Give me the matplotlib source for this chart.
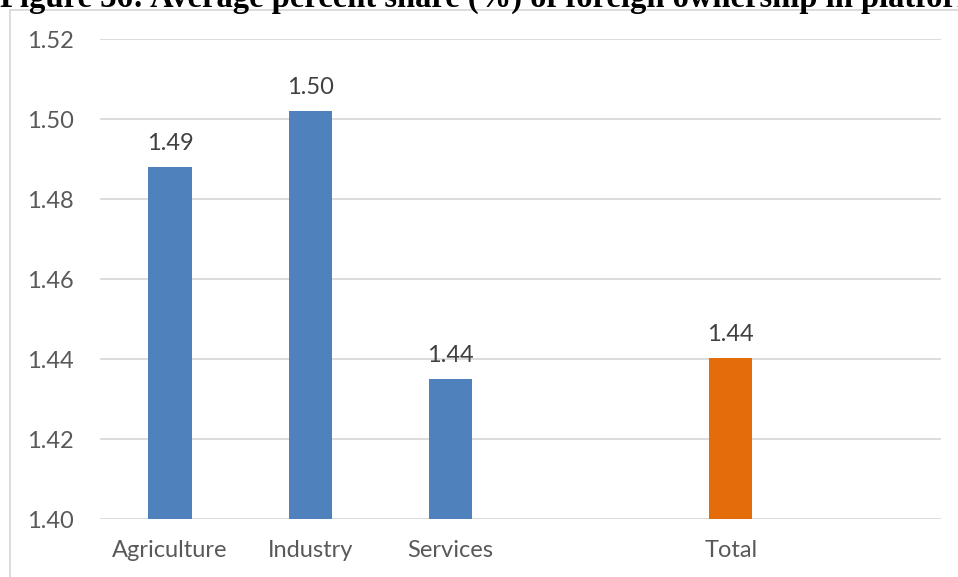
import matplotlib
matplotlib.use("Agg")
import matplotlib.pyplot as plt
from matplotlib.lines import Line2D

categories = ["Agriculture", "Industry", "Services", "", "Total", ""]
values = [1.488, 1.502, 1.435, None, 1.4403, None]
labels = ["1.49", "1.50", "1.44", "", "1.44", ""]
colors = ["#4f81bd", "#4f81bd", "#4f81bd", "#4f81bd", "#e46c0a", "#4f81bd"]
yticks = [1.40, 1.42, 1.44, 1.46, 1.48, 1.50, 1.52]

plt.rcParams['font.family'] = ['Lato', 'DejaVu Sans']

W, H = 958, 577
fig = plt.figure(figsize=(W/100, H/100), dpi=100)
ax = fig.add_axes([100/W, 1-519/H, (941-100)/W, (519-39)/H])

xs = list(range(len(categories)))
for x, v, c, lab in zip(xs, values, colors, labels):
    if v is None:
        continue
    ax.bar(x, v - 1.40, bottom=1.40, width=0.31, color=c, zorder=3)
    ax.annotate(lab, (x, v), xytext=(0, 9), textcoords='offset points',
                ha='center', va='bottom', fontsize=17, color='#404040')

ax.set_xlim(-0.5, len(categories) - 0.5)
ax.set_ylim(1.40, 1.52)
ax.set_yticks(yticks)
ax.set_yticklabels([f"{t:.2f}" for t in yticks])
ax.set_xticks(xs)
ax.set_xticklabels(categories)
ax.tick_params(axis='both', length=0, labelsize=17, labelcolor='#595959')
ax.tick_params(axis='y', pad=19)
ax.tick_params(axis='x', pad=15)
ax.grid(axis='y', color='#d9d9d9', linewidth=1.3, zorder=0)
ax.set_axisbelow(True)
for s in ax.spines.values():
    s.set_visible(False)

# chart frame
fig.add_artist(Line2D([10/W, 10/W], [0, 1-10/H], color='#d9d9d9', linewidth=1.3,
                      transform=fig.transFigure))
fig.add_artist(Line2D([10/W, 1], [1-10/H, 1-10/H], color='#d9d9d9', linewidth=1.3,
                      transform=fig.transFigure))

fig.text(0, 1-7/H, "Figure 36: Average percent share (%) of foreign ownership in platforms",
         family=['Liberation Serif'], fontweight='bold', fontsize=23.5, ha='left',
         va='baseline', color='black')

fig.savefig("out.png", dpi=100)
